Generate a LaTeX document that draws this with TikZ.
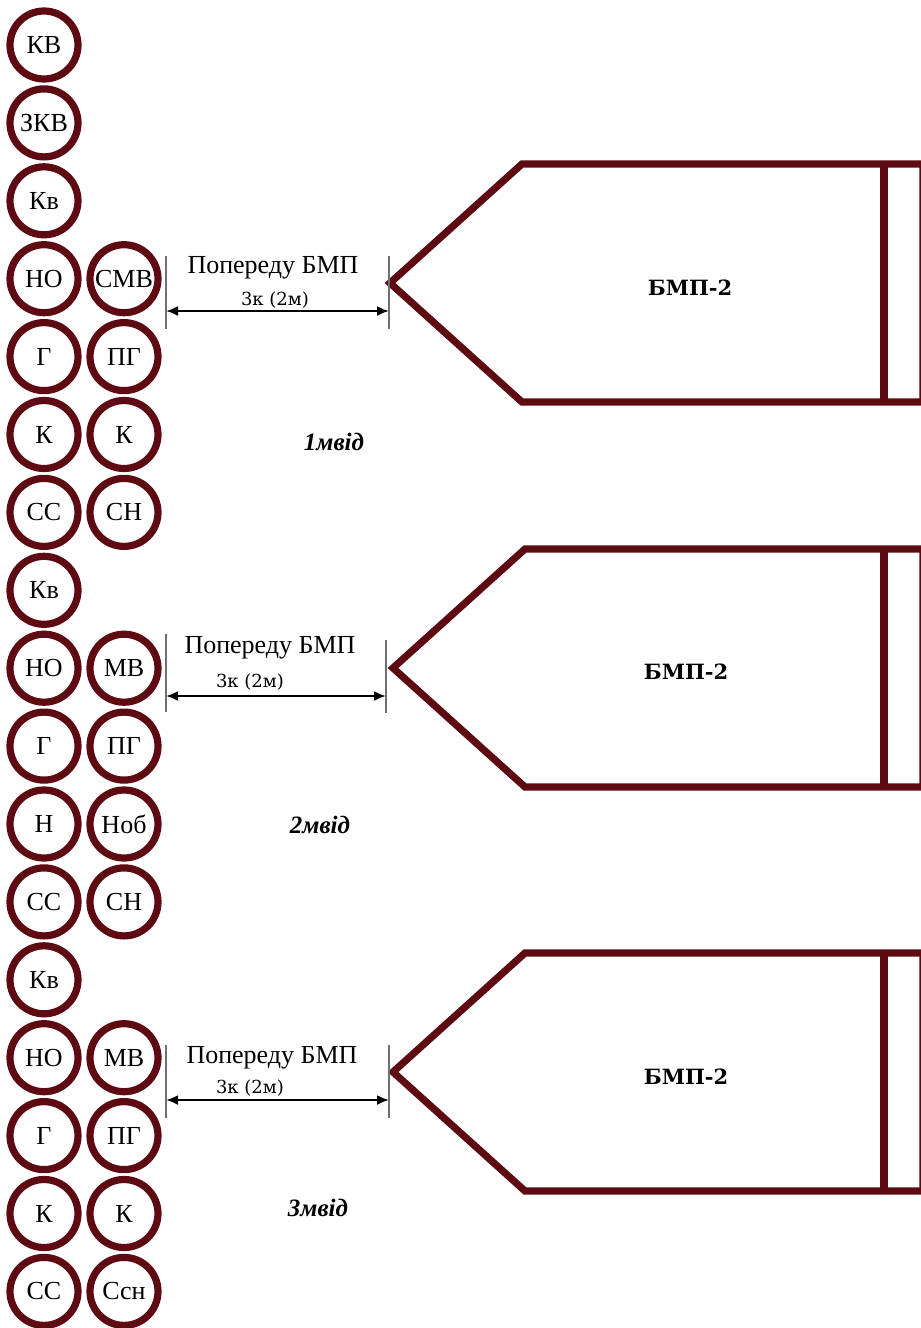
\documentclass[tikz,border=0pt]{standalone}
\usepackage{fontspec}
\setmainfont{Liberation Serif}
\newfontfamily\dejaserif{DejaVu Serif}
\usetikzlibrary{arrows.meta}
\definecolor{cmem}{HTML}{5E0A12}
\definecolor{cdim}{HTML}{707070}
\tikzset{
  mem/.style={circle, draw=cmem, line width=3.6pt, minimum size=34pt,
              inner sep=0pt, font=\fontsize{13}{14}\selectfont},
  veh/.style={draw=cmem, line width=3.6pt, line join=miter},
  dimtick/.style={draw=cdim, line width=0.6pt},
  dimarrow/.style={{Latex[length=6pt,width=5pt]}-{Latex[length=6pt,width=5pt]},
                   line width=1.1pt},
  ahead/.style={font=\fontsize{13}{15}\selectfont},
  gaptxt/.style={font=\dejaserif\fontsize{9}{10}\selectfont},
  vname/.style={font=\dejaserif\bfseries\fontsize{10.5}{12}\selectfont},
  sqname/.style={font=\bfseries\itshape\fontsize{12.5}{14}\selectfont},
}
\begin{document}
\begin{tikzpicture}[x=0.5pt, y=-0.5pt]
  \useasboundingbox (0,0) rectangle (921,1328);
  % soldiers, left file
  \foreach \lab [count=\i from 0] in {КВ,ЗКВ,Кв,НО,Г,К,СС,Кв,НО,Г,Н,СС,Кв,НО,Г,К,СС}
    \node[mem] (l\i) at (44,{45+77.9*\i}) {\lab};
  % soldiers, right file
  \foreach \i/\lab in {3/СМВ,4/ПГ,5/К,6/СН,8/МВ,9/ПГ,10/Ноб,11/СН,13/МВ,14/ПГ,15/К,16/Ссн}
    \node[mem] (r\i) at (124,{45+77.9*\i}) {\lab};
  % 1st squad
  \draw[veh] (390,283) -- (522,164) -- (923,164) -- (923,402) -- (522,402) -- cycle;
  \draw[veh] (884,164) -- (884,402);
  \node[vname] (v1) at (690,288) {БМП-2};
  \coordinate (a1) at (166,311); \coordinate (b1) at (389,311);
  \draw[dimtick] (166,256) -- (166,329); \draw[dimtick] (389,256) -- (389,329);
  \draw[dimarrow] (a1) -- (b1);
  \node[ahead] (t1) at (273,268) {Попереду БМП};
  \node[gaptxt] (g1) at (275,300) {3к (2м)};
  \node[sqname] (s1) at (334,442) {1мвід};
  % 2nd squad
  \draw[veh] (393,668) -- (525,549) -- (923,549) -- (923,787) -- (525,787) -- cycle;
  \draw[veh] (884,549) -- (884,787);
  \node[vname] (v2) at (686,672) {БМП-2};
  \coordinate (a2) at (166,696); \coordinate (b2) at (386,696);
  \draw[dimtick] (166,634) -- (166,712); \draw[dimtick] (386,640) -- (386,713);
  \draw[dimarrow] (a2) -- (b2);
  \node[ahead] (t2) at (270,648) {Попереду БМП};
  \node[gaptxt] (g2) at (250,682) {3к (2м)};
  \node[sqname] (s2) at (320,825) {2мвід};
  % 3rd squad
  \draw[veh] (393,1072) -- (525,953) -- (923,953) -- (923,1191) -- (525,1191) -- cycle;
  \draw[veh] (884,953) -- (884,1191);
  \node[vname] (v3) at (686,1077) {БМП-2};
  \coordinate (a3) at (166,1100); \coordinate (b3) at (389,1100);
  \draw[dimtick] (166,1045) -- (166,1118); \draw[dimtick] (389,1045) -- (389,1118);
  \draw[dimarrow] (a3) -- (b3);
  \node[ahead] (t3) at (272,1058) {Попереду БМП};
  \node[gaptxt] (g3) at (250,1088) {3к (2м)};
  \node[sqname] (s3) at (318,1208) {3мвід};
\end{tikzpicture}
\end{document}
